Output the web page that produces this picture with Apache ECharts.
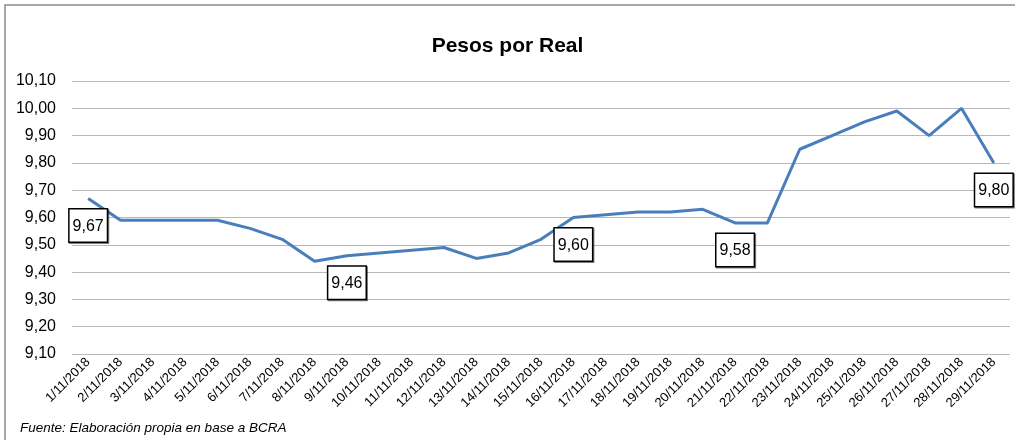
<!DOCTYPE html>
<html>
<head>
<meta charset="utf-8">
<script src="https://cdn.jsdelivr.net/npm/echarts@6/dist/echarts.min.js"></script>
<style>
  html, body { margin: 0; padding: 0; background: #fff; }
  #chart { width: 1015px; height: 440px; }
</style>
</head>
<body>
<div id="chart"></div>
<script>
var dias = [];
for (var d = 1; d <= 29; d++) dias.push(d + '/11/2018');

var valores = [9.67, 9.59, 9.59, 9.59, 9.59, 9.56, 9.52, 9.44, 9.46, 9.47,
  9.48, 9.49, 9.45, 9.47, 9.52, 9.60, 9.61, 9.62, 9.62, 9.63,
  9.58, 9.58, 9.85, 9.90, 9.95, 9.99, 9.90, 10.00, 9.80];

// indices of the points that carry a boxed label
var etiquetados = [0, 8, 15, 20, 28];

var fuente = '"Liberation Sans Narrow", "Liberation Sans", Arial, sans-serif';

function coma(v) { return v.toFixed(2).replace('.', ','); }

var puntos = valores.map(function (v, i) {
  return {
    value: v,
    label: { show: etiquetados.indexOf(i) >= 0 }
  };
});

var myChart = echarts.init(document.getElementById('chart'));

var option = {
  animation: false,
  backgroundColor: '#fff',
  title: {
    text: 'Pesos por Real',
    left: 'center',
    top: 31,
    textStyle: { fontFamily: fuente, fontSize: 21, fontWeight: 'bold', color: '#000' }
  },
  graphic: [
    {
      type: 'rect',
      shape: { x: 5, y: 5, width: 1030, height: 460 },
      style: { fill: 'none', stroke: '#8c8c8c', lineWidth: 1.5 },
      silent: true
    },
    {
      type: 'text',
      left: 20,
      top: 421,
      style: {
        text: 'Fuente: Elaboración propia en base a BCRA',
        font: 'italic 13.5px ' + fuente,
        fill: '#000'
      }
    }
  ],
  grid: { left: 72, right: 5, top: 81, bottom: 86 },
  xAxis: {
    type: 'category',
    data: dias,
    boundaryGap: true,
    axisLine: { show: false },
    axisTick: { show: false },
    axisLabel: {
      rotate: 45,
      interval: 0,
      fontFamily: fuente,
      fontSize: 13,
      color: '#000',
      margin: 6
    }
  },
  yAxis: {
    type: 'value',
    min: 9.1,
    max: 10.1,
    interval: 0.1,
    axisLine: { show: false },
    axisTick: { show: false },
    splitLine: { lineStyle: { color: '#b8b8b8', width: 1 } },
    axisLabel: {
      fontFamily: fuente,
      fontSize: 16,
      color: '#000',
      margin: 16,
      formatter: function (v) { return coma(v); }
    }
  },
  series: [{
    type: 'line',
    data: puntos,
    showSymbol: true,
    symbol: 'circle',
    symbolSize: 0,
    itemStyle: { color: '#4a7ebb' },
    lineStyle: { color: '#4a7ebb', width: 3 },
    label: {
      position: 'bottom',
      distance: 11,
      formatter: function (p) { return coma(p.value); },
      fontFamily: fuente,
      fontSize: 16,
      color: '#000',
      backgroundColor: '#fff',
      borderColor: '#000',
      borderWidth: 1.5,
      padding: [9, 3, 7, 3],
      shadowColor: 'rgba(0,0,0,0.5)',
      shadowOffsetX: 1,
      shadowOffsetY: 1,
      shadowBlur: 0
    }
  }]
};

myChart.setOption(option);
</script>
</body>
</html>
